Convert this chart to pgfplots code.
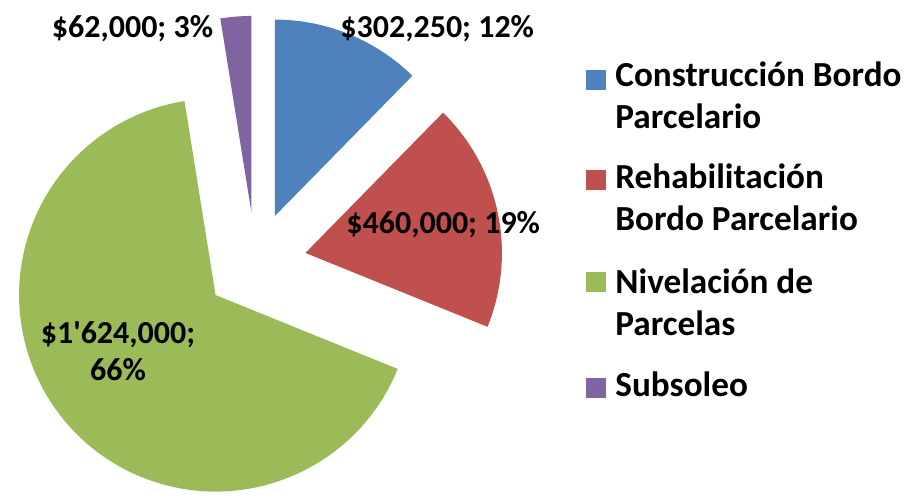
\documentclass[border=0pt]{standalone}
\usepackage{pgfplots}
\pgfplotsset{compat=1.18}
\usepackage{pgfplotstable}
\usepackage{fontspec}
\setmainfont{Carlito}[Ligatures=TeXOff]

\definecolor{cBlue}{HTML}{4F81BD}
\definecolor{cRed}{HTML}{C0504D}
\definecolor{cGreen}{HTML}{9BBB59}
\definecolor{cPurple}{HTML}{8064A2}

% cost per activity (MXN)
\pgfplotstableread{
id value
0 302250
1 460000
2 1624000
3 62000
}\piedata

% slice angles: start at the top, go clockwise
\def\total{0}%
\def\cum{0}%
\foreach \i in {0,...,3}{%
  \pgfplotstablegetelem{\i}{value}\of\piedata
  \xdef\total{\fpeval{\total+\pgfplotsretval}}%
}%
\foreach \i in {0,...,3}{%
  \pgfplotstablegetelem{\i}{value}\of\piedata
  \expandafter\xdef\csname s\i\endcsname{\fpeval{90-360*\cum/\total}}%
  \xdef\cum{\fpeval{\cum+\pgfplotsretval}}%
  \expandafter\xdef\csname e\i\endcsname{\fpeval{90-360*\cum/\total}}%
  \expandafter\xdef\csname m\i\endcsname{\fpeval{(\csname s\i\endcsname+\csname e\i\endcsname)/2}}%
}%

% one exploded slice: #1 row, #2 colour
\newcommand\slice[2]{%
  \fill[#2] (axis cs:255.5,263.3) ++(\csname m#1\endcsname:25.5pt)
    -- ++(\csname s#1\endcsname:98.25pt)
    arc[start angle=\csname s#1\endcsname, end angle=\csname e#1\endcsname, radius=98.25pt]
    -- cycle;}

\newcommand\lf{\fontsize{16}{20}\selectfont\bfseries}
\newcommand\gf{\fontsize{17.6}{21}\selectfont\bfseries}
\tikzset{lab/.style={font=\lf, inner sep=0pt},
  leg/.style={font=\gf, inner sep=0pt, anchor=base west}}

\begin{document}
\begin{tikzpicture}
\useasboundingbox (0,0) rectangle (461pt,249pt);
\begin{axis}[x=0.5pt, y=0.5pt, xmin=0, xmax=922, ymin=0, ymax=498,
  y dir=reverse, hide axis, clip=false]
\slice{0}{cBlue}
\slice{1}{cRed}
\slice{2}{cGreen}
\slice{3}{cPurple}

% data labels
\node[lab, anchor=base west] at (axis cs:340,37.5) {\$302,250; 12\%};
\node[lab, anchor=base west] at (axis cs:51.5,37.5) {\$62,000; 3\%};
\node[lab, anchor=base west] at (axis cs:346,233) {\$460,000; 19\%};
\node[lab, anchor=base] at (axis cs:118,343) {\$1'624,000;};
\node[lab, anchor=base] at (axis cs:118,380) {66\%};

% legend
\fill[cBlue] (axis cs:586,70) rectangle (axis cs:606,90);
\node[leg] at (axis cs:615,86.5) {Construcción Bordo};
\node[leg] at (axis cs:615,128.3) {Parcelario};
\fill[cRed] (axis cs:586,170) rectangle (axis cs:606,190);
\node[leg] at (axis cs:615,188.3) {Rehabilitación};
\node[leg] at (axis cs:615,230) {Bordo Parcelario};
\fill[cGreen] (axis cs:586,272) rectangle (axis cs:606,292);
\node[leg] at (axis cs:615,293.3) {Nivelación de};
\node[leg] at (axis cs:615,335) {Parcelas};
\fill[cPurple] (axis cs:586,378) rectangle (axis cs:606,398);
\node[leg] at (axis cs:615,396.7) {Subsoleo};
\end{axis}
\end{tikzpicture}
\end{document}
